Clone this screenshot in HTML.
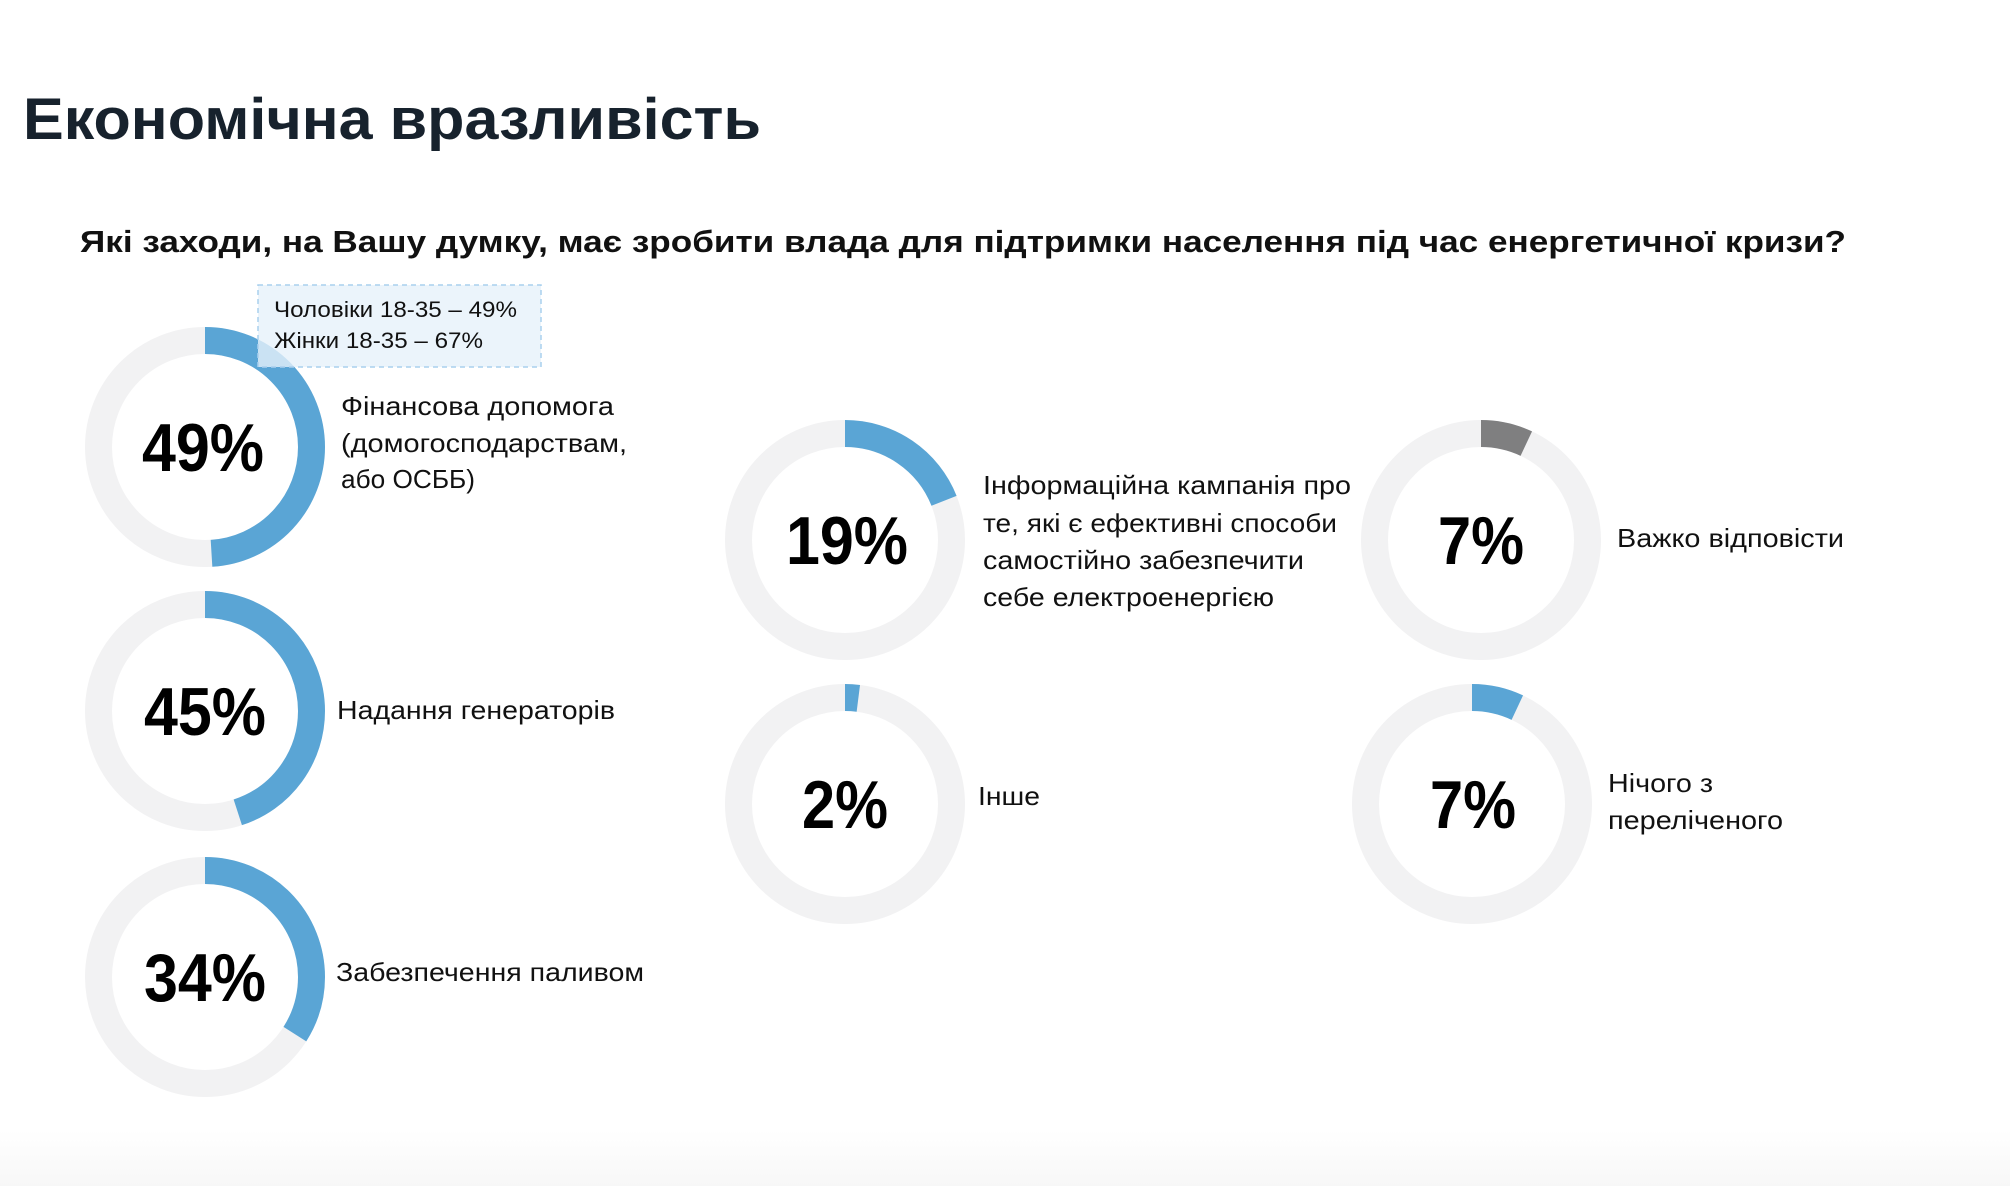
<!DOCTYPE html>
<html><head><meta charset="utf-8"><style>
html,body{margin:0;padding:0;background:#fff;}
svg{display:block;}
text{font-family:"Liberation Sans","DejaVu Sans",sans-serif;}
.lb{font-size:26px;fill:#111;}
.pc{font-size:68px;font-weight:bold;fill:#000;}
</style></head><body>
<svg width="2010" height="1186" viewBox="0 0 2010 1186" xmlns="http://www.w3.org/2000/svg">
<defs>
<linearGradient id="bg" x1="0" y1="0" x2="0" y2="1">
<stop offset="0" stop-color="#fff"/><stop offset="1" stop-color="#f7f7f7"/></linearGradient>
</defs>
<rect width="2010" height="1186" fill="#fff"/>
<rect y="1130" width="2010" height="56" fill="url(#bg)"/>
<text x="23" y="139" font-size="58" font-weight="bold" fill="#17222d" textLength="738" lengthAdjust="spacingAndGlyphs">Економічна вразливість</text>
<text x="80" y="252" font-size="31" font-weight="bold" fill="#111" textLength="1766" lengthAdjust="spacingAndGlyphs">Які заходи, на Вашу думку, має зробити влада для підтримки населення під час енергетичної кризи?</text>

<g fill="none" stroke-width="27">
<circle cx="205" cy="447" r="106.5" stroke="#f2f2f3"/>
<circle cx="205" cy="447" r="106.5" stroke="#5aa5d5" stroke-dasharray="327.9 700" transform="rotate(-90 205 447)"/>
<circle cx="205" cy="711" r="106.5" stroke="#f2f2f3"/>
<circle cx="205" cy="711" r="106.5" stroke="#5aa5d5" stroke-dasharray="301.1 700" transform="rotate(-90 205 711)"/>
<circle cx="205" cy="977" r="106.5" stroke="#f2f2f3"/>
<circle cx="205" cy="977" r="106.5" stroke="#5aa5d5" stroke-dasharray="227.5 700" transform="rotate(-90 205 977)"/>
<circle cx="845" cy="540" r="106.5" stroke="#f2f2f3"/>
<circle cx="845" cy="540" r="106.5" stroke="#5aa5d5" stroke-dasharray="127.1 700" transform="rotate(-90 845 540)"/>
<circle cx="845" cy="804" r="106.5" stroke="#f2f2f3"/>
<circle cx="845" cy="804" r="106.5" stroke="#5aa5d5" stroke-dasharray="13.4 700" transform="rotate(-90 845 804)"/>
<circle cx="1481" cy="540" r="106.5" stroke="#f2f2f3"/>
<circle cx="1481" cy="540" r="106.5" stroke="#7f7f80" stroke-dasharray="46.8 700" transform="rotate(-90 1481 540)"/>
<circle cx="1472" cy="804" r="106.5" stroke="#f2f2f3"/>
<circle cx="1472" cy="804" r="106.5" stroke="#5aa5d5" stroke-dasharray="46.8 700" transform="rotate(-90 1472 804)"/>
</g>

<rect x="258" y="285" width="283" height="82" fill="#e6f1fa" fill-opacity="0.8" stroke="#a9d0ee" stroke-width="1.5" stroke-dasharray="5 4"/>
<text x="274" y="317" font-size="22" fill="#111" textLength="243" lengthAdjust="spacingAndGlyphs">Чоловіки 18-35 – 49%</text>
<text x="274" y="348" font-size="22" fill="#111" textLength="209" lengthAdjust="spacingAndGlyphs">Жінки 18-35 – 67%</text>

<text class="pc" x="203" y="471" text-anchor="middle" textLength="122" lengthAdjust="spacingAndGlyphs">49%</text>
<text class="pc" x="205" y="735" text-anchor="middle" textLength="122" lengthAdjust="spacingAndGlyphs">45%</text>
<text class="pc" x="205" y="1001" text-anchor="middle" textLength="122" lengthAdjust="spacingAndGlyphs">34%</text>
<text class="pc" x="847" y="564" text-anchor="middle" textLength="122" lengthAdjust="spacingAndGlyphs">19%</text>
<text class="pc" x="845" y="828" text-anchor="middle" textLength="86" lengthAdjust="spacingAndGlyphs">2%</text>
<text class="pc" x="1481" y="564" text-anchor="middle" textLength="86" lengthAdjust="spacingAndGlyphs">7%</text>
<text class="pc" x="1473" y="828" text-anchor="middle" textLength="86" lengthAdjust="spacingAndGlyphs">7%</text>

<text class="lb" x="341" y="415" textLength="273" lengthAdjust="spacingAndGlyphs">Фінансова допомога</text>
<text class="lb" x="341" y="452" textLength="286" lengthAdjust="spacingAndGlyphs">(домогосподарствам,</text>
<text class="lb" x="341" y="488" textLength="134" lengthAdjust="spacingAndGlyphs">або ОСББ)</text>
<text class="lb" x="337" y="719" textLength="278" lengthAdjust="spacingAndGlyphs">Надання генераторів</text>
<text class="lb" x="336" y="981" textLength="308" lengthAdjust="spacingAndGlyphs">Забезпечення паливом</text>
<text class="lb" x="983" y="494" textLength="368" lengthAdjust="spacingAndGlyphs">Інформаційна кампанія про</text>
<text class="lb" x="983" y="532" textLength="354" lengthAdjust="spacingAndGlyphs">те, які є ефективні способи</text>
<text class="lb" x="983" y="569" textLength="321" lengthAdjust="spacingAndGlyphs">самостійно забезпечити</text>
<text class="lb" x="983" y="606" textLength="291" lengthAdjust="spacingAndGlyphs">себе електроенергією</text>
<text class="lb" x="1617" y="547" textLength="227" lengthAdjust="spacingAndGlyphs">Важко відповісти</text>
<text class="lb" x="978" y="805" textLength="62" lengthAdjust="spacingAndGlyphs">Інше</text>
<text class="lb" x="1608" y="792" textLength="105" lengthAdjust="spacingAndGlyphs">Нічого з</text>
<text class="lb" x="1608" y="829" textLength="175" lengthAdjust="spacingAndGlyphs">переліченого</text>
</svg>
</body></html>
